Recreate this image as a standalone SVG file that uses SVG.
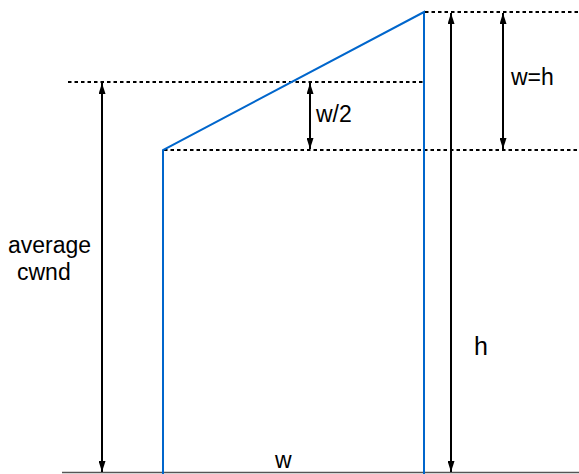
<svg xmlns="http://www.w3.org/2000/svg" width="579" height="474" viewBox="0 0 579 474">
<defs>
<marker id="ah" viewBox="0 0 10 7" refX="10" refY="3.5" markerWidth="11" markerHeight="7" markerUnits="userSpaceOnUse" orient="auto-start-reverse" preserveAspectRatio="none">
<path d="M0,0 L10,3.5 L0,7 z" fill="#000"/>
</marker>
</defs>
<style>
.dot{stroke:#000;stroke-width:1.8;stroke-dasharray:3.5,3;fill:none}
.blue{stroke:#0066cc;stroke-width:2;fill:none}
.arr{stroke:#000;stroke-width:2;fill:none;marker-start:url(#ah);marker-end:url(#ah)}
.t{font-family:"Liberation Sans",Arial,sans-serif;fill:#000;font-size:23px}
</style>
<g id="connectors">
<line x1="62" y1="472.5" x2="579" y2="472.5" stroke="#555" stroke-width="1.5"/>
<line class="dot" x1="425" y1="12" x2="579" y2="12"/>
<line class="dot" x1="68" y1="82" x2="424" y2="82"/>
<line class="dot" x1="164" y1="150" x2="579" y2="150"/>
<polyline class="blue" points="163,474 163,150 424,12 424,474"/>
<line class="arr" x1="102" y1="83" x2="102" y2="472"/>
<line class="arr" x1="451" y1="13" x2="451" y2="472"/>
<line class="arr" x1="503" y1="13" x2="503" y2="149"/>
<line class="arr" x1="310" y1="83" x2="310" y2="149"/>
</g>
<g id="label-avg"><text class="t" x="8" y="253">average</text><text class="t" x="17" y="280">cwnd</text></g>
<g id="label-w2"><text class="t" x="316" y="122">w/2</text></g>
<g id="label-wh"><text class="t" x="511" y="85">w=h</text></g>
<g id="label-h"><text class="t" x="474" y="355" style="font-size:25px">h</text></g>
<g id="label-w"><text class="t" x="275" y="468">w</text></g>
</svg>
